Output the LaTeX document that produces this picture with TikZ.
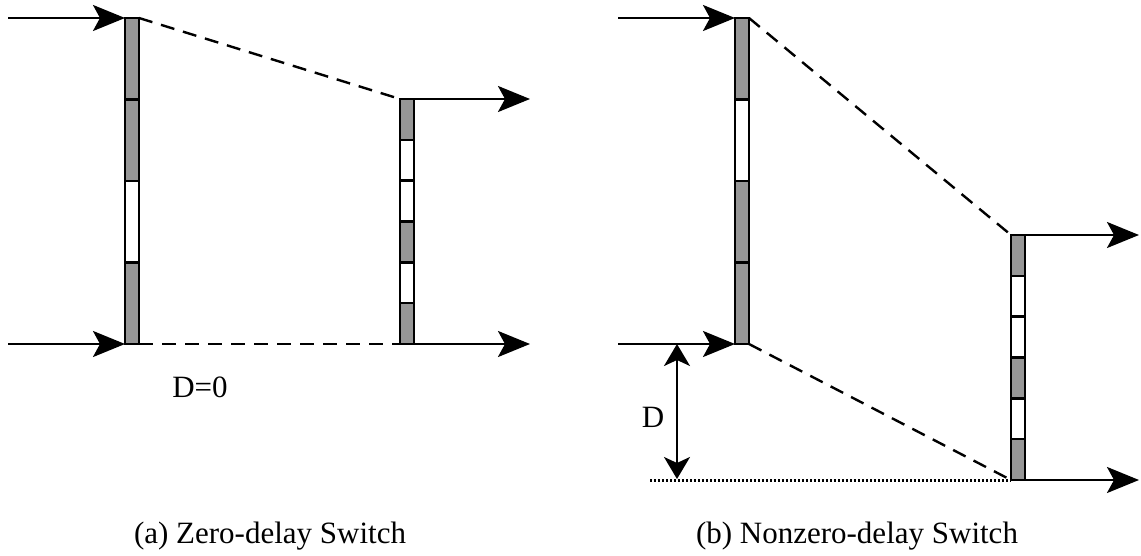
\documentclass[tikz,border=0pt]{standalone}
\usepackage{fontspec}
\setmainfont{Liberation Serif}
\usetikzlibrary{arrows.meta, positioning}
\definecolor{SlotGray}{RGB}{150,150,150}
\tikzset{
    bar/.style={
        draw,
        line width=1.2pt,
        minimum width=7pt,
        inner sep=0pt,
        outer sep=0pt
    },
    slot/.style={draw, line width=1.2pt},
    flow/.style={-{Stealth[length=16pt, width=13pt, inset=3.5pt]}, line width=1.2pt},
    link/.style={line width=1.2pt, dash pattern=on 7pt off 4.5pt},
    level/.style={line width=1.5pt, dash pattern=on 1.2pt off 0.8pt},
    gap/.style={{Stealth[length=11pt, width=13pt, inset=3pt]}-{Stealth[length=11pt, width=13pt, inset=3pt]}, line width=1.2pt},
    caption/.style={font=\fontsize{15.5}{18}\selectfont, anchor=base, inner sep=0pt}
}
% slots of a bar: centre x, top y, slot height, colours
\newcommand{\slotbar}[4]{%
    \foreach \c [count=\i] in {#4}
        \draw[slot, fill=\c] (#1-7,{#2+(\i-1)*#3}) rectangle (#1+7,{#2+\i*#3});
}

\begin{document}
\begin{tikzpicture}[x=0.5pt, y=-0.5pt]
        \useasboundingbox (0,0) rectangle (1141,556);

        % (a) zero-delay
        \node[bar, minimum height=163pt, anchor=north] (inA) at (132,18) {};
        \slotbar{132}{18}{81.5}{SlotGray,SlotGray,white,SlotGray}
        \node[bar, minimum height=122.5pt, anchor=north] (outA) at (407,99) {};
        \slotbar{407}{99}{40.833}{SlotGray,white,white,SlotGray,white,SlotGray}

        \coordinate (srcA1) at (8,18);
        \coordinate (srcA2) at (8,344);
        \coordinate (dstA1) at (530,99);
        \coordinate (dstA2) at (530,344);

        \draw[flow] (srcA1) -- (inA.north west);
        \draw[flow] (srcA2) -- (inA.south west);
        \draw[flow] (outA.north east) -- (dstA1);
        \draw[flow] (outA.south east) -- (dstA2);
        \draw[link] (inA.north east) -- (outA.north west);
        \draw[link] (inA.south east) -- (outA.south west);

        \node[caption] (zeroD) at (200,397) {D=0};
        \node[caption] (capA) at (270,543) {(a) Zero-delay Switch};

        % (b) nonzero-delay
        \node[bar, minimum height=163pt, anchor=north] (inB) at (742,18) {};
        \slotbar{742}{18}{81.5}{SlotGray,white,SlotGray,SlotGray}
        \node[bar, minimum height=122.5pt, anchor=north] (outB) at (1018,235) {};
        \slotbar{1018}{235}{40.833}{SlotGray,white,white,SlotGray,white,SlotGray}

        \coordinate (srcB1) at (618,18);
        \coordinate (srcB2) at (618,344);
        \coordinate (dstB1) at (1139,235);
        \coordinate (dstB2) at (1139,480);

        \draw[flow] (srcB1) -- (inB.north west);
        \draw[flow] (srcB2) -- (inB.south west);
        \draw[flow] (outB.north east) -- (dstB1);
        \draw[flow] (outB.south east) -- (dstB2);
        \draw[link] (inB.north east) -- (outB.north west);
        \draw[link] (inB.south east) -- (outB.south west);

        \coordinate (baseB) at (650,480);
        \draw[level] (baseB) -- (outB.south west);
        \coordinate (dTop) at (677,344);
        \coordinate (dBot) at (677,479);
        \draw[gap] (dTop) -- (dBot);
        \node[caption] (delayD) at (653,427) {D};
        \node[caption] (capB) at (857,543) {(b) Nonzero-delay Switch};

\end{tikzpicture}
\end{document}
